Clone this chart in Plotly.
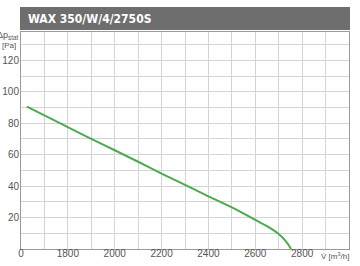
import plotly.graph_objects as go

# Data (x in m3/h, broken axis: left edge labelled "0")
flow = [1625, 1700, 1800, 1900, 2000, 2100, 2200, 2300, 2400, 2500, 2600, 2650, 2700, 2730, 2753]
pressure = [90.5, 85, 77.5, 70, 62.8, 55.5, 48, 40.8, 33.5, 26.5, 18.5, 14.5, 9.5, 5, 0]
x_tickvals = [1600, 1800, 2000, 2200, 2400, 2600, 2800]
x_ticktext = ["0", "1800", "2000", "2200", "2400", "2600", "2800"]
y_tickvals = [20, 40, 60, 80, 100, 120]
title = "WAX 350/W/4/2750S"

W, H = 360, 266
ml, mr, mt, mb = 21, 11, 32, 17
ph = H - mt - mb
pw = W - ml - mr

fig = go.Figure()
fig.add_trace(go.Scatter(x=flow, y=pressure, mode="lines",
                         line=dict(color="#4caa4f", width=2), line_shape="spline",
                         hoverinfo="skip", showlegend=False))

grid = "#d4d4d4"
tfont = dict(family="Liberation Sans", size=10, color="#555555")
fig.update_xaxes(range=[1600, 3000], tickvals=x_tickvals, ticktext=x_ticktext, automargin=False,
                 showgrid=True, gridcolor=grid, gridwidth=1,
                 minor=dict(dtick=100, tick0=1600, showgrid=True, gridcolor=grid, gridwidth=1),
                 showline=True, linecolor="#9a9a9a", linewidth=1, mirror=True,
                 zeroline=False, ticks="", ticklabelstandoff=-5, tickfont=tfont)
fig.update_yaxes(range=[0, 138], tickvals=y_tickvals, automargin=False,
                 showgrid=True, gridcolor=grid, gridwidth=1,
                 minor=dict(dtick=10, tick0=0, showgrid=True, gridcolor=grid, gridwidth=1),
                 showline=True, linecolor="#9a9a9a", linewidth=1, mirror=True,
                 zeroline=False, ticks="", ticklabelstandoff=-1, tickfont=tfont)

def py(p):
    return 1 - (p - mt) / ph

def px(p):
    return (p - ml) / pw

fig.add_shape(type="rect", xref="paper", yref="paper",
              x0=px(20), x1=px(350), y0=py(30), y1=py(7),
              fillcolor="#6e6e6e", line=dict(width=0), layer="above")
fig.add_annotation(xref="paper", yref="paper", x=px(26), y=py(18.5), xanchor="left", yanchor="middle",
                   text="<b>" + title + "</b>", showarrow=False,
                   font=dict(family="DejaVu Sans Condensed", size=12, color="white"))
fig.add_annotation(xref="paper", yref="paper", x=px(19), y=py(35), xanchor="right", yanchor="middle",
                   text="Δp<sub>stat</sub>", showarrow=False, borderpad=0,
                   font=dict(family="Liberation Sans", size=9, color="#555555"))
fig.add_annotation(xref="paper", yref="paper", x=px(17), y=py(45.5), xanchor="right", yanchor="middle",
                   text="[Pa]", showarrow=False, borderpad=0,
                   font=dict(family="Liberation Sans", size=8, color="#555555"))
fig.add_annotation(xref="paper", yref="paper", x=px(351), y=py(256), xanchor="right", yanchor="middle",
                   text="V̇ [m<sup>3</sup>/h]", showarrow=False,
                   font=dict(family="Liberation Sans", size=8, color="#555555"))

fig.update_layout(width=W, height=H, margin=dict(l=ml, r=mr, t=mt, b=mb),
                  paper_bgcolor="white", plot_bgcolor="white")
fig.write_html("out.html")
